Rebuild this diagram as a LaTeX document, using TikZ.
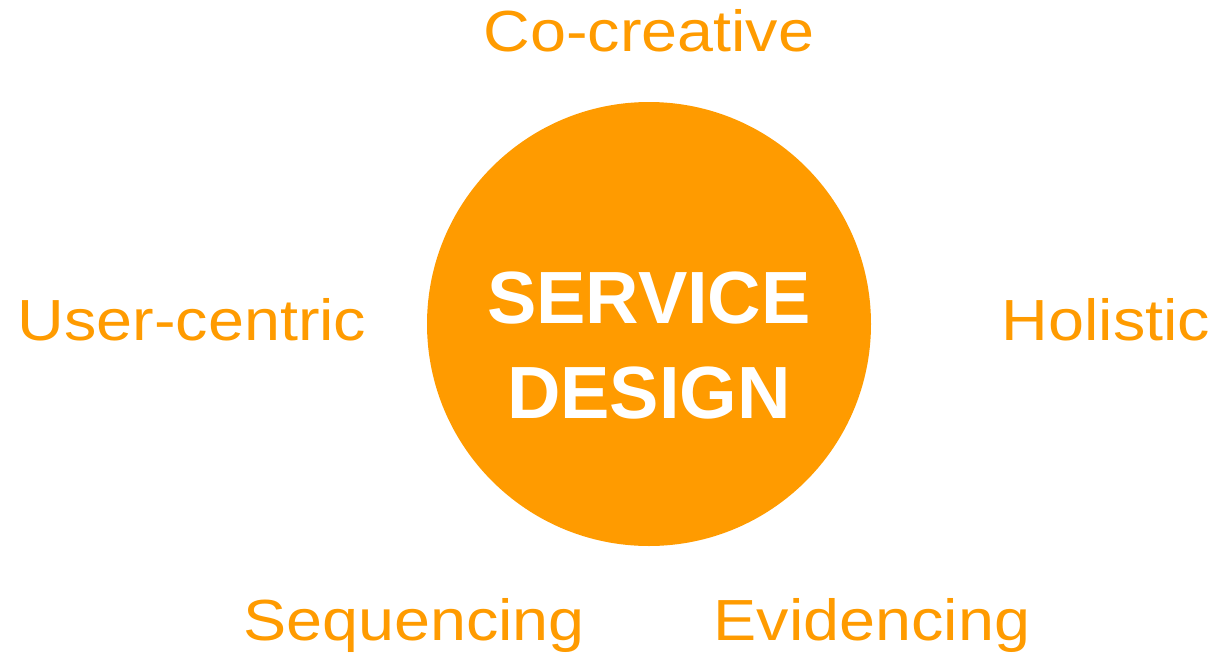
\documentclass[tikz,border=0pt]{standalone}
\usepackage{fontspec}
\setmainfont{Liberation Sans}
\newfontfamily\widefont[FakeStretch=1.115]{Liberation Sans}
\definecolor{sdorange}{HTML}{FF9B00}
\begin{document}
\begin{tikzpicture}[x=1pt,y=-1pt,
  lbl/.style={text=sdorange,font=\widefont\fontsize{58}{58}\selectfont,inner sep=0pt,anchor=base},
  ctr/.style={text=white,font=\bfseries\fontsize{74}{74}\selectfont,inner sep=0pt,anchor=base}]
\useasboundingbox (0,0) rectangle (1216,654);
\node[circle,fill=sdorange,minimum size=444pt,inner sep=0pt] (circ) at (649,324) {};
\node[ctr] (service) at (649,323) {SERVICE};
\node[ctr] (design) at (649,418) {DESIGN};
\node[lbl] (cocreative) at (649,51) {Co-creative};
\node[lbl] (usercentric) at (192,340) {User-centric};
\node[lbl] (holistic) at (1106,340) {Holistic};
\node[lbl] (sequencing) at (414,640) {Sequencing};
\node[lbl] (evidencing) at (872,640) {Evidencing};
\end{tikzpicture}
\end{document}
